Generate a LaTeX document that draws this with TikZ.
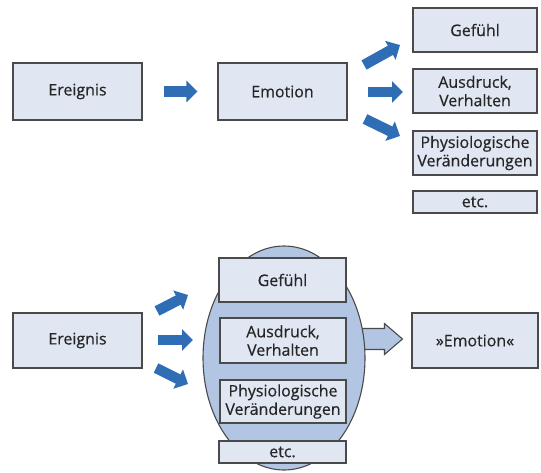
\documentclass[tikz,border=0pt]{standalone}
\usepackage{fontspec}
\setmainfont{Open Sans}
\newfontfamily\labelfont{Open Sans}[FakeBold=0.5]
\usetikzlibrary{arrows.meta,calc,shapes.geometric}
\definecolor{boxfill}{HTML}{E0E7F3}
\definecolor{boxline}{HTML}{4A4A4A}
\definecolor{ovalfill}{HTML}{B2C5E2}
\definecolor{arrowblue}{HTML}{2F6DB5}
\definecolor{txt}{HTML}{262626}
\tikzset{
  box/.style={draw=boxline, line width=1.1bp, fill=boxfill, text=txt,
    inner sep=0pt, align=center, font=\labelfont\fontsize{16}{18.5}\selectfont},
  bluearrow/.style={draw=arrowblue, line width=10.5bp,
    -{Triangle[width=21bp,length=11bp]}},
  hollowarrow/.style={draw=boxline, line width=1.1bp, fill=ovalfill, line join=miter},
  oval/.style={draw=boxline, line width=1.1bp, fill=ovalfill}
}
\begin{document}
\begin{tikzpicture}[x=1bp,y=-1bp]
\useasboundingbox (0,0) rectangle (541,473);

% ---- upper sequence: Ereignis -> Emotion -> components ----
\node[box, minimum width=129bp, minimum height=57bp] (ereignisA) at (77.5,91.5) {Ereignis};
\node[box, minimum width=129bp, minimum height=57bp] (emotionA) at (282.5,91.5) {Emotion};
\node[box, minimum width=124bp, minimum height=44bp] (gefuehlA) at (475,30) {Gefühl};
\node[box, minimum width=124bp, minimum height=44bp] (ausdruckA) at (475,91) {Ausdruck,\\Verhalten};
\node[box, minimum width=124bp, minimum height=44bp] (physA) at (475,153) {Physiologische\\Veränderungen};
\node[box, minimum width=124bp, minimum height=22bp] (etcA) at (475,202) {etc.};

\draw[bluearrow, shorten <=21bp, shorten >=20bp] (ereignisA) -- (emotionA);

\coordinate (upA0) at (364,65);  \coordinate (upA1) at (400,45);
\coordinate (midA0) at (368,92); \coordinate (midA1) at (403,92);
\coordinate (lowA0) at (365,119); \coordinate (lowA1) at (400,136);
\draw[bluearrow] (upA0) -- (upA1);
\draw[bluearrow] (midA0) -- (midA1);
\draw[bluearrow] (lowA0) -- (lowA1);

% ---- lower sequence: Ereignis -> components -> "Emotion" ----
\node[box, minimum width=129bp, minimum height=55bp] (ereignisB) at (77.5,340.5) {Ereignis};
\node[box, minimum width=126bp, minimum height=55bp] (emotionB) at (475,340.5) {»Emotion«};

% hollow arrow from the oval to the result
\coordinate (htip) at ($(emotionB.west)+(-9,-1.5)$);
\draw[hollowarrow] (htip) -- ++(-18,-15.5) -- ++(0,5) -- ++(-40,0) -- ++(0,21)
  -- ++(40,0) -- ++(0,5) -- cycle;

\node[oval, ellipse, minimum width=162bp, minimum height=224bp, inner sep=0pt] (oval) at (284,358) {};

\node[box, minimum width=127bp, minimum height=44bp] (gefuehlB) at (282.5,280) {Gefühl};
\node[box, minimum width=126bp, minimum height=45bp] (ausdruckB) at (283,340.5) {Ausdruck,\\Verhalten};
\node[box, minimum width=126bp, minimum height=43bp] (physB) at (283,401.5) {Physiologische\\Veränderungen};
\node[box, minimum width=127bp, minimum height=22bp] (etcB) at (282.5,452) {etc.};

\coordinate (upB0) at (157,311);  \coordinate (upB1) at (188,295);
\coordinate (midB0) at (158,340); \coordinate (midB1) at (193,340);
\coordinate (lowB0) at (156,368); \coordinate (lowB1) at (188,384);
\draw[bluearrow] (upB0) -- (upB1);
\draw[bluearrow] (midB0) -- (midB1);
\draw[bluearrow] (lowB0) -- (lowB1);
\end{tikzpicture}
\end{document}
